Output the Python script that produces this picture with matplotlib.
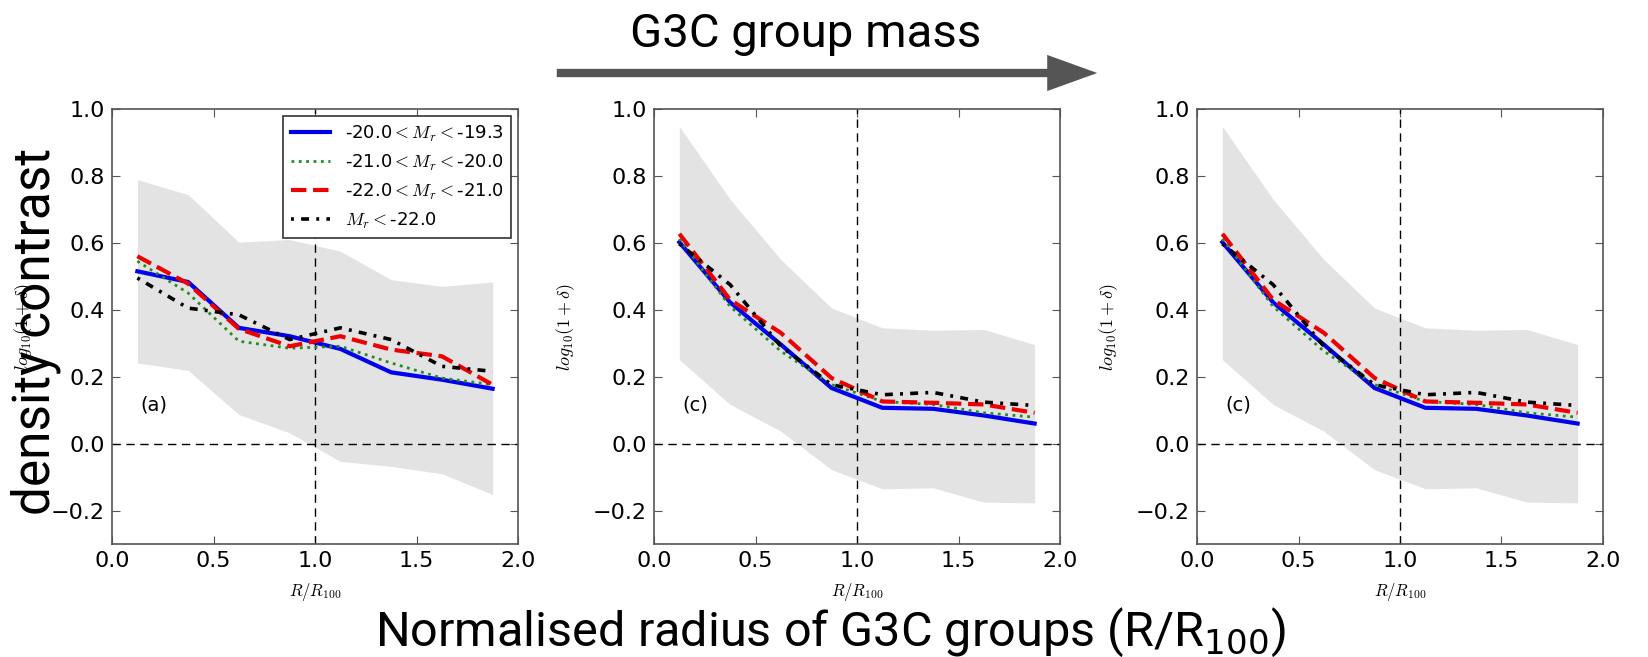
import numpy as np
import matplotlib
matplotlib.use('Agg')
from matplotlib import pyplot as plt

plt.rcParams['mathtext.fontset'] = 'cm'
plt.rcParams['font.family'] = ['DejaVu Sans']

# radial bins (R/R100)
radius = [0.125, 0.375, 0.625, 0.875, 1.125, 1.375, 1.625, 1.875]

# panel (a) - low mass groups
a_m193 = [0.515, 0.483, 0.346, 0.321, 0.283, 0.213, 0.191, 0.164]
a_m200 = [0.545, 0.450, 0.306, 0.285, 0.291, 0.241, 0.196, 0.176]
a_m210 = [0.560, 0.478, 0.343, 0.291, 0.321, 0.281, 0.261, 0.176]
a_m220 = [0.495, 0.405, 0.385, 0.311, 0.346, 0.311, 0.231, 0.216]
a_band_hi = [0.789, 0.744, 0.602, 0.610, 0.575, 0.490, 0.470, 0.483]
a_band_lo = [0.241, 0.219, 0.087, 0.032, -0.053, -0.068, -0.090, -0.152]

# panel (c) - higher mass groups
c_m193 = [0.602, 0.422, 0.296, 0.166, 0.107, 0.104, 0.084, 0.060]
c_m200 = [0.612, 0.410, 0.276, 0.176, 0.126, 0.117, 0.092, 0.079]
c_m210 = [0.627, 0.430, 0.331, 0.196, 0.126, 0.122, 0.117, 0.092]
c_m220 = [0.597, 0.475, 0.291, 0.176, 0.146, 0.153, 0.124, 0.114]
c_band_hi = [0.948, 0.730, 0.550, 0.405, 0.346, 0.339, 0.341, 0.296]
c_band_lo = [0.251, 0.117, 0.037, -0.078, -0.135, -0.132, -0.175, -0.177]

labels = ['-20.0$<M_r<$-19.3', '-21.0$<M_r<$-20.0',
          '-22.0$<M_r<$-21.0', '$M_r<$-22.0']
panel_tags = ['(a)', '(c)', '(c)']

panels = [
    (a_m193, a_m200, a_m210, a_m220, a_band_hi, a_band_lo),
    (c_m193, c_m200, c_m210, c_m220, c_band_hi, c_band_lo),
    (c_m193, c_m200, c_m210, c_m220, c_band_hi, c_band_lo),
]

styles = [
    dict(color='#0000ee', ls='-', lw=3),
    dict(color='#228b22', ls=':', lw=2),
    dict(color='#ee0000', ls='--', lw=3),
    dict(color='black', ls='-.', lw=2.6, dashes=(0.8, 2.0, 2.2, 2.0)),
]

big_font = ['Roboto', 'DejaVu Sans']

fig = plt.figure(figsize=(16.48, 6.57), dpi=100)
lefts = [112, 654, 1197]
axes = []
for i, left in enumerate(lefts):
    ax = fig.add_axes([left / 1648, 113 / 657, 406 / 1648, 435 / 657])
    axes.append(ax)
    m193, m200, m210, m220, hi, lo = panels[i]
    ax.fill_between(radius, lo, hi, color='#e3e3e3', lw=0)
    ax.axhline(0, color='black', ls='--', lw=1, dashes=(6, 4))
    ax.axvline(1.0, color='black', ls='--', lw=1, dashes=(6, 4))
    for series, st, lab in zip([m193, m200, m210, m220], styles, labels):
        ax.plot(radius, series, label=lab, **st)
    ax.set_xlim(0, 2)
    ax.set_ylim(-0.3, 1.0)
    ax.set_xticks([0.0, 0.5, 1.0, 1.5, 2.0])
    ax.set_yticks([-0.2, 0.0, 0.2, 0.4, 0.6, 0.8, 1.0])
    ax.tick_params(direction='in', top=True, right=True, labelsize=16,
                   length=6, color='#555555', pad=5)
    for sp in ax.spines.values():
        sp.set_color('#555555')
        sp.set_linewidth(1.2)
    ax.set_xlabel('$R/R_{100}$', fontsize=12)
    ax.xaxis.set_label_coords(0.5, -0.085)
    ax.set_ylabel('$log_{10}(1+\\delta)$', fontsize=13)
    ax.yaxis.set_label_coords(-0.19, 0.5)
    ax.text(0.07, 0.32, panel_tags[i], transform=ax.transAxes, fontsize=14,
            ha='left', va='center')

leg = axes[0].legend(loc='upper right', fontsize=13, handlelength=2.2,
                     borderaxespad=0.4, framealpha=1, fancybox=False,
                     edgecolor='#333333')
leg.get_frame().set_linewidth(1.2)

# top arrow
fig.text(806 / 1648, 1 - 34 / 657, 'G3C group mass', fontsize=34, ha='center',
         va='center', family=big_font)
plt.annotate('', xy=(1100, 657 - 73), xytext=(554, 657 - 73),
             xycoords='figure pixels', textcoords='figure pixels',
             arrowprops=dict(arrowstyle='simple,head_length=1.8,head_width=1.3,tail_width=0.3',
                             mutation_scale=20, color='#555555', lw=0))

fig.text(36 / 1648, 1 - 331 / 657, 'density contrast', fontsize=37,
         rotation=90, ha='center', va='center', family=big_font)
fig.text(830 / 1648, 1 - 632 / 657, 'Normalised radius of G3C groups (R/R$_{100}$)',
         fontsize=35, ha='center', va='center', family=big_font,
         math_fontfamily='dejavusans')

fig.savefig('out.png', dpi=100)
